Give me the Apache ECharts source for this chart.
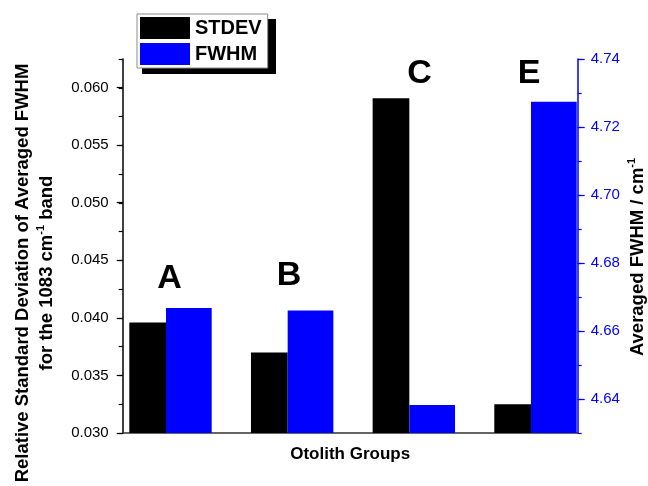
<!DOCTYPE html>
<html>
<head>
<meta charset="utf-8">
<script src="https://cdn.jsdelivr.net/npm/echarts@6/dist/echarts.min.js"></script>
<style>
html,body{margin:0;padding:0;background:#fff;}
#chart{width:648px;height:486px;}
</style>
</head>
<body>
<div id="chart"></div>
<script>
// ---- data ----
const groups = ['A', 'B', 'C', 'E'];
const stdevValues = [0.0396, 0.0370, 0.0591, 0.0325];
const fwhmValues = [4.6668, 4.6660, 4.6382, 4.7274];
const leftTicks = ['0.030', '0.035', '0.040', '0.045', '0.050', '0.055', '0.060'];
const rightTicks = ['4.64', '4.66', '4.68', '4.70', '4.72', '4.74'];
const seriesNames = ['STDEV', 'FWHM'];

const FONT = '"Liberation Sans", Arial, sans-serif';
const BLUE = '#0000ff';

const chart = echarts.init(document.getElementById('chart'), null, {renderer: 'canvas'});

const gFrame = {left: 122.7, right: 70.3, top: 59, bottom: 53};
const gLeftLab = {left: 122.7, right: 70.3, top: 87.5, bottom: 53};
const gRightLab = {left: 122.7, right: 70.3, top: 59, bottom: 87};
const gBars = {left: 109.67, right: 51.67, top: 59, bottom: 53};

function hiddenX(gi) {
  return {type: 'category', gridIndex: gi, data: groups, show: false};
}

const option = {
  animation: false,
  backgroundColor: '#ffffff',
  textStyle: {fontFamily: FONT},
  grid: [gFrame, gLeftLab, gRightLab, gBars],
  xAxis: [
    {
      type: 'category', gridIndex: 0, data: groups,
      axisLine: {show: true, lineStyle: {color: '#333', width: 1.5}},
      axisTick: {show: false}, axisLabel: {show: false}, splitLine: {show: false},
      name: 'Otolith Groups', nameLocation: 'middle', nameGap: 13,
      nameTextStyle: {fontFamily: FONT, fontSize: 17, fontWeight: 'bold', color: '#000'}
    },
    hiddenX(1), hiddenX(2), hiddenX(3)
  ],
  yAxis: [
    // frame left axis (line + minor-size ticks)
    {
      type: 'value', gridIndex: 0, position: 'left', min: 0.030, max: 0.0625, interval: 0.0025,
      axisLine: {show: true, lineStyle: {color: '#000', width: 1.5}},
      axisTick: {show: true, length: 4, lineStyle: {color: '#000', width: 1.2}},
      axisLabel: {show: false}, splitLine: {show: false}
    },
    // frame right axis
    {
      type: 'value', gridIndex: 0, position: 'right', min: 4.63, max: 4.74, interval: 0.01,
      axisLine: {show: true, lineStyle: {color: BLUE, width: 1.5}},
      axisTick: {show: true, length: 4, lineStyle: {color: BLUE, width: 1.2}},
      axisLabel: {show: false}, splitLine: {show: false}
    },
    // left labelled major ticks
    {
      type: 'value', gridIndex: 1, position: 'left', min: 0.030, max: 0.060, interval: 0.005,
      axisLine: {show: false},
      axisTick: {show: true, length: 6, lineStyle: {color: '#000', width: 1.2}},
      axisLabel: {show: true, margin: 14, color: '#000', fontSize: 15, fontFamily: FONT,
        formatter: function (v) { return leftTicks[Math.round((v - 0.030) / 0.005)] || ''; }},
      splitLine: {show: false}
    },
    // right labelled major ticks
    {
      type: 'value', gridIndex: 2, position: 'right', min: 4.64, max: 4.74, interval: 0.02,
      axisLine: {show: false},
      axisTick: {show: true, length: 7, lineStyle: {color: BLUE, width: 1.2}},
      axisLabel: {show: true, margin: 13, color: BLUE, fontSize: 15, fontFamily: FONT,
        formatter: function (v) { return rightTicks[Math.round((v - 4.64) / 0.02)] || ''; }},
      splitLine: {show: false}
    },
    // bar scales
    {type: 'value', gridIndex: 3, min: 0.030, max: 0.0625, show: false},
    {type: 'value', gridIndex: 3, min: 4.63, max: 4.74, show: false}
  ],
  legend: {
    show: true, orient: 'vertical', left: 137, top: 14,
    padding: [3, 6, 3, 3], itemGap: 4, itemWidth: 50, itemHeight: 22,
    backgroundColor: '#fff', borderColor: '#8c8c8c', borderWidth: 1,
    icon: 'rect', z: 10,
    textStyle: {fontFamily: FONT, fontSize: 20, fontWeight: 'bold', color: '#000', padding: [0, 0, 0, 0]},
    data: seriesNames
  },
  graphic: [
    {type: 'rect', z: 1, left: 142, top: 19, shape: {width: 134, height: 55}, style: {fill: '#000'}},
    {type: 'text', z: 20, x: 169.5, y: 279, style: {text: groups[0], font: 'bold 34px ' + FONT, fill: '#000', align: 'center', verticalAlign: 'middle'}},
    {type: 'text', z: 20, x: 289, y: 275.5, style: {text: groups[1], font: 'bold 34px ' + FONT, fill: '#000', align: 'center', verticalAlign: 'middle'}},
    {type: 'text', z: 20, x: 419.5, y: 74, style: {text: groups[2], font: 'bold 34px ' + FONT, fill: '#000', align: 'center', verticalAlign: 'middle'}},
    {type: 'text', z: 20, x: 529, y: 74, style: {text: groups[3], font: 'bold 34px ' + FONT, fill: '#000', align: 'center', verticalAlign: 'middle'}},
    {
      type: 'text', z: 20, x: 35, y: 273, rotation: Math.PI / 2,
      style: {
        text: '{t|Relative Standard Deviation of Averaged FWHM}\n{t|for the 1083 cm}{s|-1}{t| band}',
        align: 'center', verticalAlign: 'middle', fill: '#000',
        rich: {
          t: {font: 'bold 18.5px ' + FONT, fill: '#000', lineHeight: 24},
          s: {font: 'bold 11px ' + FONT, fill: '#000', lineHeight: 24, verticalAlign: 'top', padding: [0, 0, 10, 0]}
        }
      }
    },
    {
      type: 'text', z: 20, x: 638, y: 257, rotation: Math.PI / 2,
      style: {
        text: '{t|Averaged FWHM / cm}{s|-1}',
        align: 'center', verticalAlign: 'middle', fill: '#000',
        rich: {
          t: {font: 'bold 18.5px ' + FONT, fill: '#000', lineHeight: 24},
          s: {font: 'bold 11px ' + FONT, fill: '#000', lineHeight: 24, verticalAlign: 'top', padding: [0, 0, 10, 0]}
        }
      }
    }
  ],
  series: [
    {
      name: seriesNames[0], type: 'bar', xAxisIndex: 3, yAxisIndex: 4,
      data: stdevValues, barWidth: 36.7, barGap: '0%',
      itemStyle: {color: '#000', borderColor: '#000', borderWidth: 0},
      clip: true
    },
    {
      name: seriesNames[1], type: 'bar', xAxisIndex: 3, yAxisIndex: 5,
      data: fwhmValues, barWidth: 45.7, barGap: '0%',
      itemStyle: {color: BLUE, borderWidth: 0},
      clip: true
    }
  ]
};
chart.setOption(option);
</script>
</body>
</html>
